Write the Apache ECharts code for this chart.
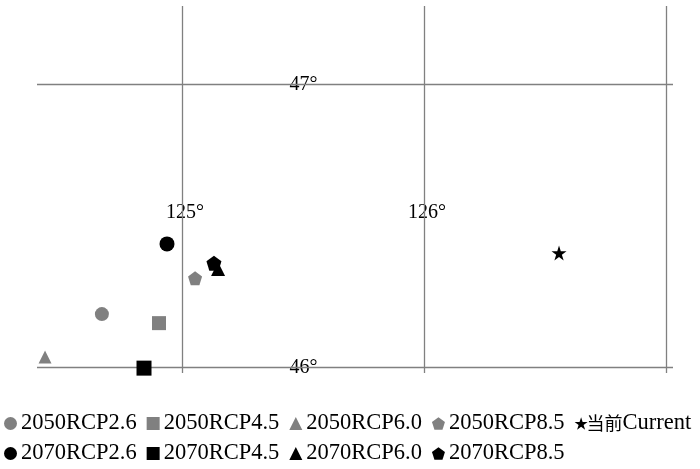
<!DOCTYPE html>
<html><head><meta charset="utf-8">
<script src="https://cdn.jsdelivr.net/npm/echarts@6/dist/echarts.min.js"></script>
<style>html,body{margin:0;padding:0;background:#fff}#c{width:700px;height:469px}</style>
</head><body><div id="c"></div>
<script>
// Graticule
const lonLines = [125, 126, 127];
const latLines = [46, 47];
const lonLabels = [125, 126];
const latLabels = [47, 46];
const lonLabelLat = 46.548;
const latLabelLon = 125.49;

// Series (lon, lat)
const names = ['2050RCP2.6','2050RCP4.5','2050RCP6.0','2050RCP8.5','当前Current','2070RCP2.6','2070RCP4.5','2070RCP6.0','2070RCP8.5'];
const s2050RCP26 = [[124.669, 46.187]];
const s2050RCP45 = [[124.905, 46.155]];
const s2050RCP60 = [[124.434, 46.035]];
const s2050RCP85 = [[125.054, 46.314]];
const sCurrent   = [[126.558, 46.403]];
const s2070RCP26 = [[124.938, 46.435]];
const s2070RCP45 = [[124.843, 45.996]];
const s2070RCP60 = [[125.149, 46.346]];
const s2070RCP85 = [[125.132, 46.367]];

const PENT = 'path://M0,-1L0.951,-0.309L0.588,0.809L-0.588,0.809L-0.951,-0.309Z';
const STAR = 'path://M0,-1L0.2245,-0.309L0.951,-0.309L0.363,0.118L0.588,0.809L0,0.382L-0.588,0.809L-0.363,0.118L-0.951,-0.309L-0.2245,-0.309Z';
const GRAY = '#808080', BLACK = '#000000';
const FONT = '"Liberation Serif","Times New Roman",serif';

function sc(name, data, symbol, color, size) {
  return {name, type:'scatter', data, symbol, symbolSize:size, itemStyle:{color, opacity:1}, z:5};
}

const legendText = {fontFamily:FONT, fontSize:22.5, color:'#000', padding:[0,0,0,-1],
  rich:{c:{fontFamily:'"Noto Sans CJK SC"', fontSize:18, color:'#000'}}};
const legendFmt = n => n.replace(/^(当前)/, '{c|$1}');
const legendItems = names.map(n => n === '当前Current'
  ? {name:n, textStyle:{padding:[0,0,0,-6]}} : {name:n});
const chart = echarts.init(document.getElementById('c'));
chart.setOption({
  animation:false,
  backgroundColor:'#fff',
  grid:{left:37, right:27, top:6, bottom:96},
  xAxis:{type:'value', min:124.4008, max:127.029, axisLine:{show:false}, axisTick:{show:false}, axisLabel:{show:false}, splitLine:{show:false}},
  yAxis:{type:'value', min:45.9788, max:47.2756, axisLine:{show:false}, axisTick:{show:false}, axisLabel:{show:false}, splitLine:{show:false}},
  legend:[
    {data:legendItems.slice(0,5), left:4, top:412, width:800, padding:0, itemWidth:13, itemHeight:13, itemGap:10, formatter:legendFmt, textStyle:legendText},
    {data:legendItems.slice(5), left:4, top:442, width:800, padding:0, itemWidth:13, itemHeight:13, itemGap:10, formatter:legendFmt, textStyle:legendText}
  ],
  series:[
    {type:'scatter', data:[], silent:true, z:1,
     markLine:{silent:true, symbol:'none', label:{show:false}, lineStyle:{color:'#808080', width:1.3, type:'solid', opacity:1},
       emphasis:{disabled:true},
       data: lonLines.map(v=>({xAxis:v})).concat(latLines.map(v=>({yAxis:v})))}},
    {type:'scatter', silent:true, symbolSize:0, z:3, itemStyle:{opacity:1},
     data: lonLabels.map(v=>({value:[v, lonLabelLat], name:v+'°'})).concat(latLabels.map(v=>({value:[latLabelLon, v], name:v+'°'}))),
     label:{show:true, position:'inside', offset:[3,1], formatter:p=>p.name, fontFamily:FONT, fontSize:20, color:'#000', opacity:1}},
    sc('2050RCP2.6', s2050RCP26, 'circle', GRAY, 14),
    sc('2050RCP4.5', s2050RCP45, 'rect', GRAY, 14),
    sc('2050RCP6.0', s2050RCP60, 'triangle', GRAY, 13),
    sc('2050RCP8.5', s2050RCP85, PENT, GRAY, 14),
    sc('当前Current', sCurrent, STAR, BLACK, 15),
    sc('2070RCP2.6', s2070RCP26, 'circle', BLACK, 15),
    sc('2070RCP4.5', s2070RCP45, 'rect', BLACK, 15),
    sc('2070RCP6.0', s2070RCP60, 'triangle', BLACK, 14),
    sc('2070RCP8.5', s2070RCP85, PENT, BLACK, 15)
  ]
});
</script></body></html>
